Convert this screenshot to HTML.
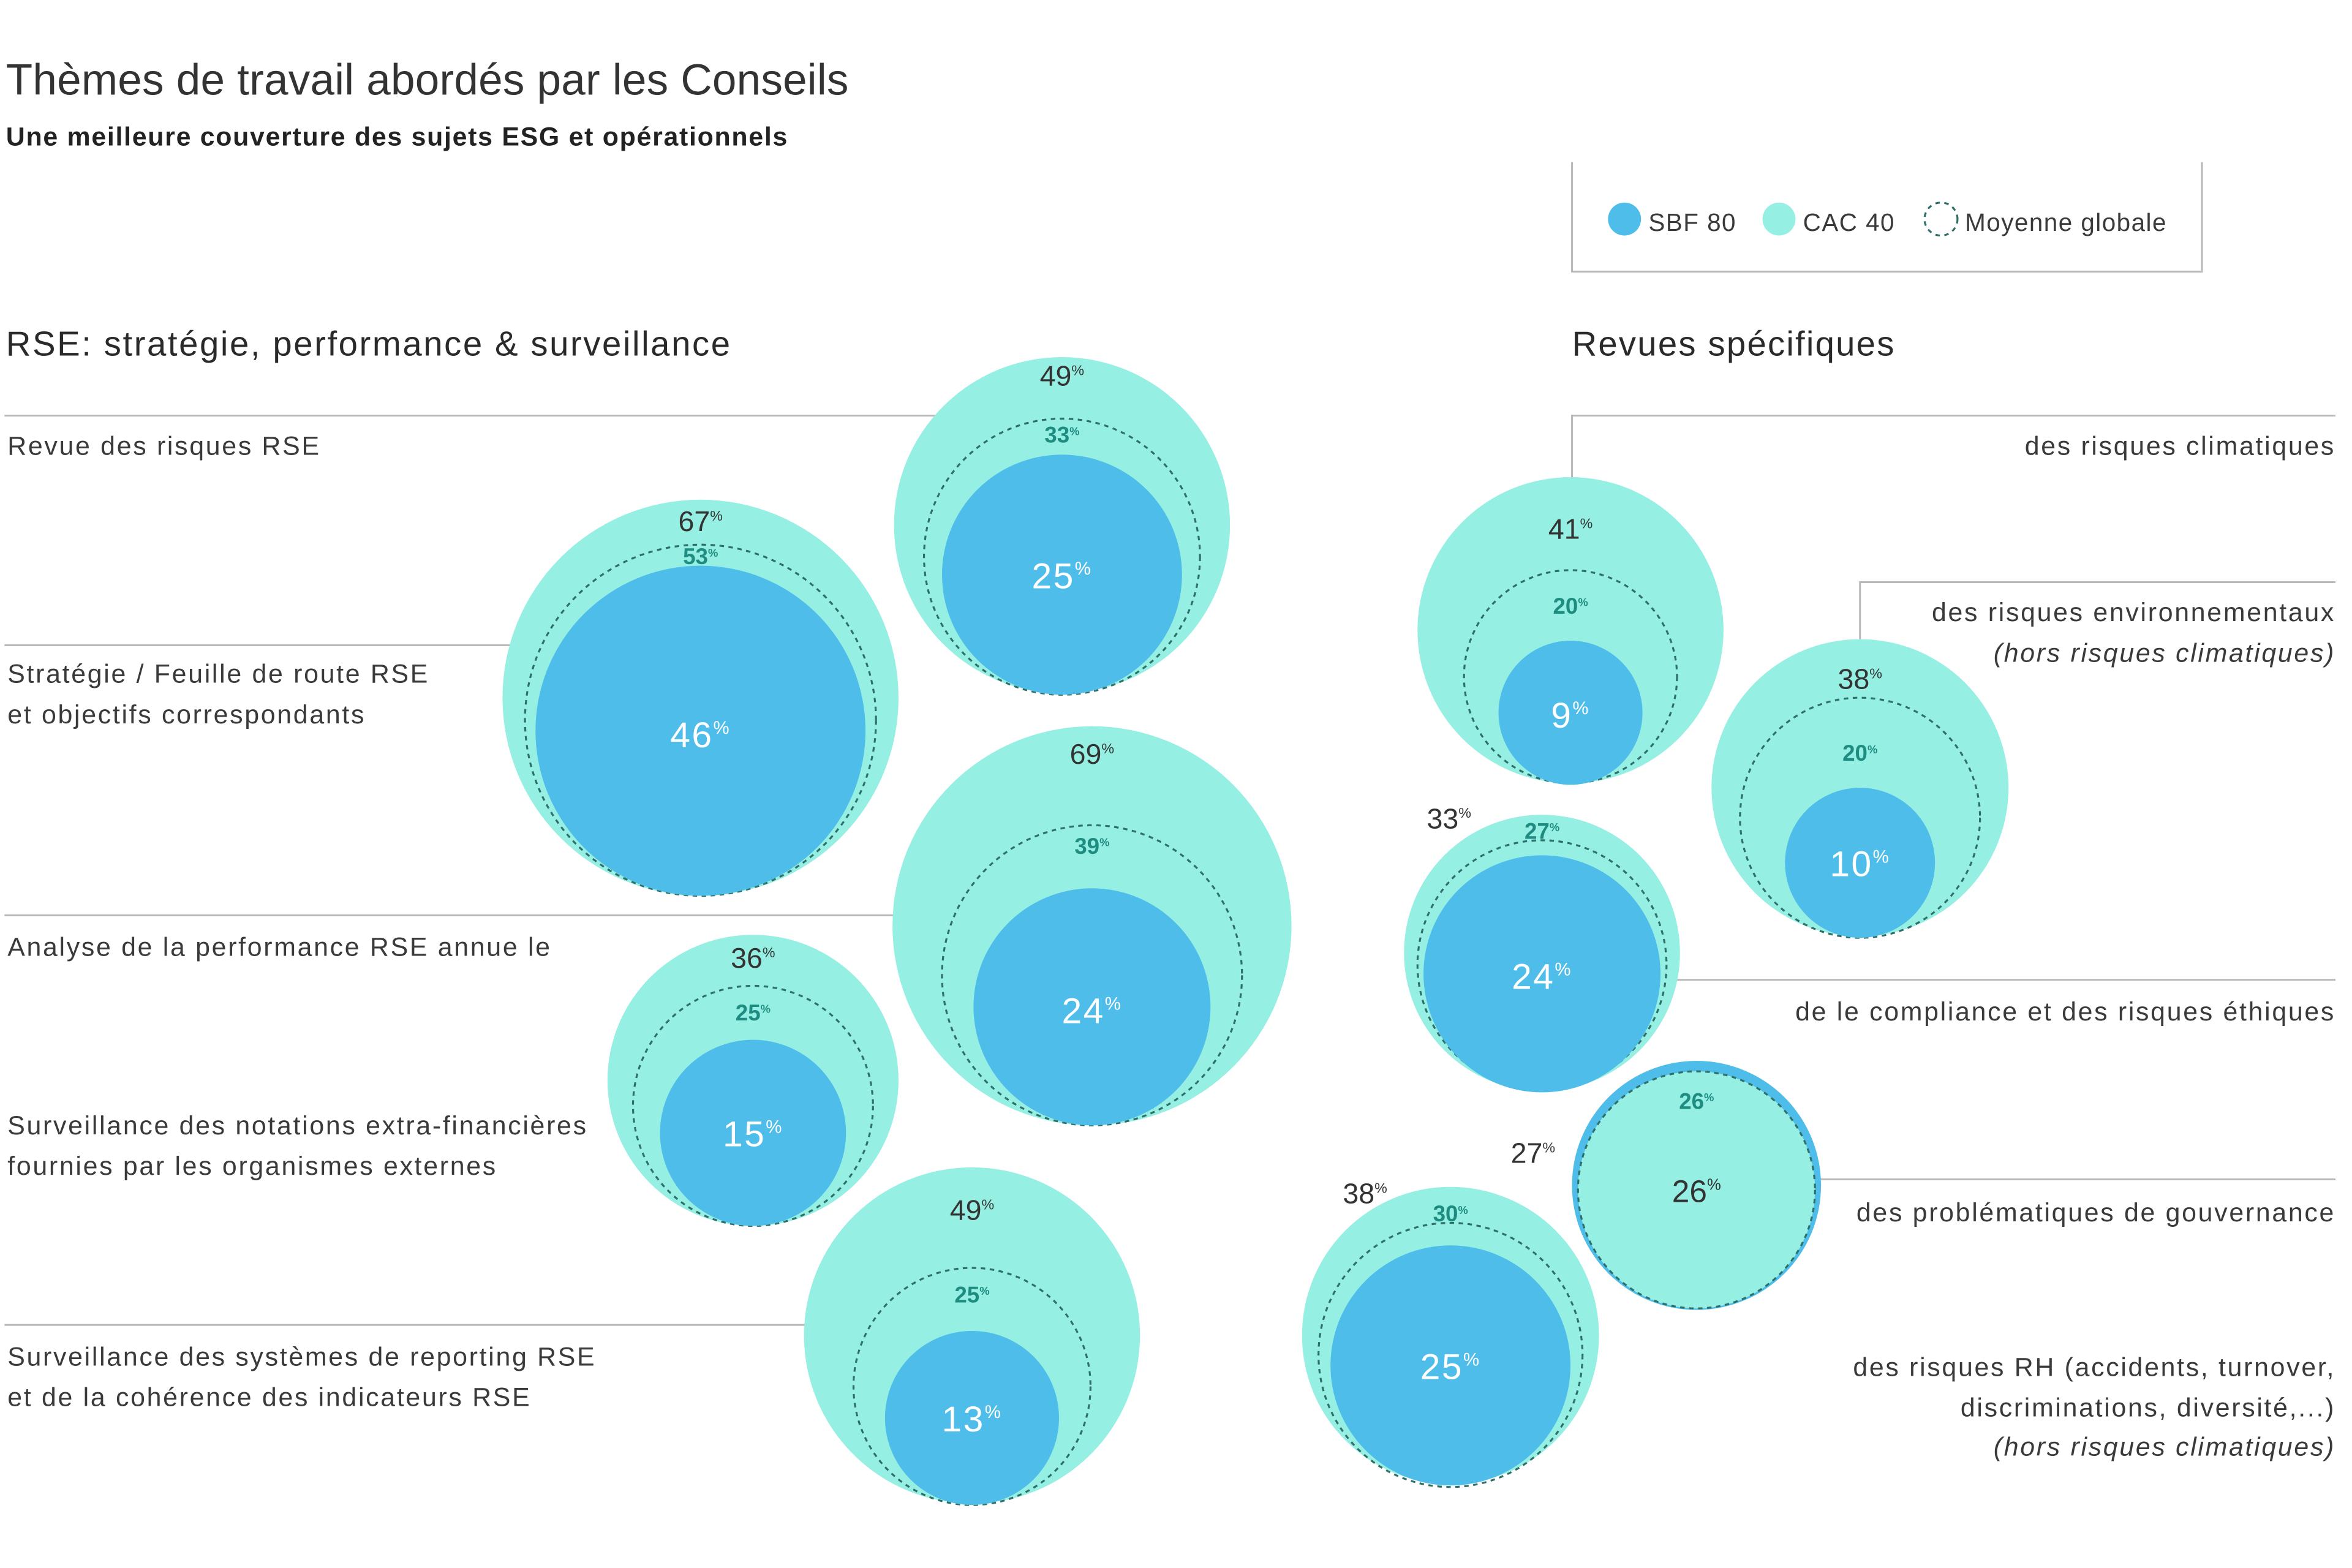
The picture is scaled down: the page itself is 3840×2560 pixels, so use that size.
<!DOCTYPE html>
<html><head><meta charset="utf-8"><style>
html,body{margin:0;padding:0;background:#fff;}
svg{display:block;}
text{font-family:"Liberation Sans","DejaVu Sans",sans-serif;}
.t{fill:#3a3a3a;font-size:17.5px;letter-spacing:1.1px;}
.d{fill:#333;font-size:19px;}
.c{fill:#1f8c82;font-size:15px;font-weight:bold;}
.w{fill:#fff;font-size:24px;letter-spacing:1px;}
.p{font-size:0.5em;}
.ln{stroke:#b8b8b8;stroke-width:1.2;fill:none;}
.o{fill:#95efe3;}
.b{fill:#4fbde9;}
.dt{fill:none;stroke:#2f6f6a;stroke-width:1.3;stroke-dasharray:3 3;}
</style></head><body>
<svg width="3840" height="2560" viewBox="0 0 1568 1045" preserveAspectRatio="none" xmlns="http://www.w3.org/2000/svg">
<text x="4" y="63" style="font-size:29px;fill:#333;letter-spacing:0.1px">Thèmes de travail abordés par les Conseils</text>
<text x="4" y="97" style="font-size:17.5px;font-weight:bold;fill:#222;letter-spacing:0.7px">Une meilleure couverture des sujets ESG et opérationnels</text>
<text x="4" y="237" style="font-size:23px;fill:#2a2a2a;letter-spacing:1.05px">RSE: stratégie, performance &amp; surveillance</text>
<text x="1048" y="237" style="font-size:23px;fill:#2a2a2a;letter-spacing:0.9px">Revues spécifiques</text>
<!-- legend -->
<path class="ln" d="M1048 108 V181 H1468 V108"/>
<circle cx="1083" cy="146" r="11" class="b"/><text x="1099" y="154" class="t" style="font-size:16.5px;letter-spacing:0.6px">SBF 80</text>
<circle cx="1186" cy="146" r="11" class="o"/><text x="1202" y="154" class="t" style="font-size:16.5px;letter-spacing:0.6px">CAC 40</text>
<circle cx="1294" cy="146" r="11" class="dt"/><text x="1310" y="154" class="t" style="font-size:16.5px;letter-spacing:0.6px">Moyenne globale</text>
<!-- lines -->
<path class="ln" d="M3 277 H625 M3 430 H345 M3 610 H600 M3 883 H540"/>
<path class="ln" d="M1048 318 V277 H1557 M1240 426 V388 H1557 M1118 653 H1557 M1213 786 H1557"/>
<!-- left labels -->
<text x="5" y="303" class="t">Revue des risques RSE</text>
<text x="5" y="455" class="t">Stratégie / Feuille de route RSE</text>
<text x="5" y="482" class="t">et objectifs correspondants</text>
<text x="5" y="637" class="t">Analyse de la performance RSE annue le</text>
<text x="5" y="756" class="t">Surveillance des notations extra-financières</text>
<text x="5" y="783" class="t">fournies par les organismes externes</text>
<text x="5" y="910" class="t">Surveillance des systèmes de reporting RSE</text>
<text x="5" y="937" class="t">et de la cohérence des indicateurs RSE</text>
<!-- right labels -->
<g text-anchor="end">
<text x="1557" y="303" class="t">des risques climatiques</text>
<text x="1557" y="414" class="t">des risques environnementaux</text>
<text x="1557" y="441" class="t" font-style="italic">(hors risques climatiques)</text>
<text x="1557" y="680" class="t">de le compliance et des risques éthiques</text>
<text x="1557" y="814" class="t">des problématiques de gouvernance</text>
<text x="1557" y="917" class="t">des risques RH (accidents, turnover,</text>
<text x="1557" y="944" class="t">discriminations, diversité,...)</text>
<text x="1557" y="970" class="t" font-style="italic">(hors risques climatiques)</text>
</g>
<!-- bubbles -->
<g text-anchor="middle">
<circle cx="708" cy="350" r="112" class="o"/><circle cx="708" cy="371" r="92" class="dt"/><circle cx="708" cy="383" r="80" class="b"/>
<text x="708" y="257" class="d">49<tspan class="p" dy="-7">%</tspan></text><text x="708" y="295" class="c">33<tspan class="p" dy="-5">%</tspan></text><text x="708" y="392" class="w">25<tspan class="p" dy="-9">%</tspan></text>

<circle cx="467" cy="465" r="132" class="o"/><circle cx="467" cy="480" r="117" class="dt"/><circle cx="467" cy="487" r="110" class="b"/>
<text x="467" y="354" class="d">67<tspan class="p" dy="-7">%</tspan></text><text x="467" y="376" class="c">53<tspan class="p" dy="-5">%</tspan></text><text x="467" y="498" class="w">46<tspan class="p" dy="-9">%</tspan></text>

<circle cx="728" cy="617" r="133" class="o"/><circle cx="728" cy="650" r="100" class="dt"/><circle cx="728" cy="671" r="79" class="b"/>
<text x="728" y="509" class="d">69<tspan class="p" dy="-7">%</tspan></text><text x="728" y="569" class="c">39<tspan class="p" dy="-5">%</tspan></text><text x="728" y="682" class="w">24<tspan class="p" dy="-9">%</tspan></text>

<circle cx="502" cy="720" r="97" class="o"/><circle cx="502" cy="737" r="80" class="dt"/><circle cx="502" cy="755" r="62" class="b"/>
<text x="502" y="645" class="d">36<tspan class="p" dy="-7">%</tspan></text><text x="502" y="680" class="c">25<tspan class="p" dy="-5">%</tspan></text><text x="502" y="764" class="w">15<tspan class="p" dy="-9">%</tspan></text>

<circle cx="648" cy="890" r="112" class="o"/><circle cx="648" cy="924" r="79" class="dt"/><circle cx="648" cy="945" r="58" class="b"/>
<text x="648" y="813" class="d">49<tspan class="p" dy="-7">%</tspan></text><text x="648" y="868" class="c">25<tspan class="p" dy="-5">%</tspan></text><text x="648" y="954" class="w">13<tspan class="p" dy="-9">%</tspan></text>

<circle cx="1047" cy="420" r="102" class="o"/><circle cx="1047" cy="451" r="71" class="dt"/><circle cx="1047" cy="475" r="48" class="b"/>
<text x="1047" y="359" class="d">41<tspan class="p" dy="-7">%</tspan></text><text x="1047" y="409" class="c">20<tspan class="p" dy="-5">%</tspan></text><text x="1047" y="485" class="w">9<tspan class="p" dy="-9">%</tspan></text>

<circle cx="1240" cy="525" r="99" class="o"/><circle cx="1240" cy="545" r="80" class="dt"/><circle cx="1240" cy="575" r="50" class="b"/>
<text x="1240" y="459" class="d">38<tspan class="p" dy="-7">%</tspan></text><text x="1240" y="507" class="c">20<tspan class="p" dy="-5">%</tspan></text><text x="1240" y="584" class="w">10<tspan class="p" dy="-9">%</tspan></text>

<circle cx="1028" cy="635" r="92" class="o"/><circle cx="1028" cy="643" r="83" class="dt"/><circle cx="1028" cy="649" r="79" class="b"/>
<text x="966" y="552" class="d">33<tspan class="p" dy="-7">%</tspan></text><text x="1028" y="559" class="c">27<tspan class="p" dy="-5">%</tspan></text><text x="1028" y="659" class="w">24<tspan class="p" dy="-9">%</tspan></text>

<circle cx="1131" cy="790" r="83" class="b"/><circle cx="1131" cy="793" r="79" class="o"/><circle cx="1131" cy="793" r="79" class="dt"/>
<text x="1022" y="775" class="d">27<tspan class="p" dy="-7">%</tspan></text><text x="1131" y="739" class="c">26<tspan class="p" dy="-5">%</tspan></text><text x="1131" y="801" class="d" style="font-size:21px">26<tspan class="p" dy="-8">%</tspan></text>

<circle cx="967" cy="890" r="99" class="o"/><circle cx="967" cy="903" r="88" class="dt"/><circle cx="967" cy="910" r="80" class="b"/>
<text x="910" y="802" class="d">38<tspan class="p" dy="-7">%</tspan></text><text x="967" y="814" class="c">30<tspan class="p" dy="-5">%</tspan></text><text x="967" y="919" class="w">25<tspan class="p" dy="-9">%</tspan></text>
</g>
</svg>
</body></html>
